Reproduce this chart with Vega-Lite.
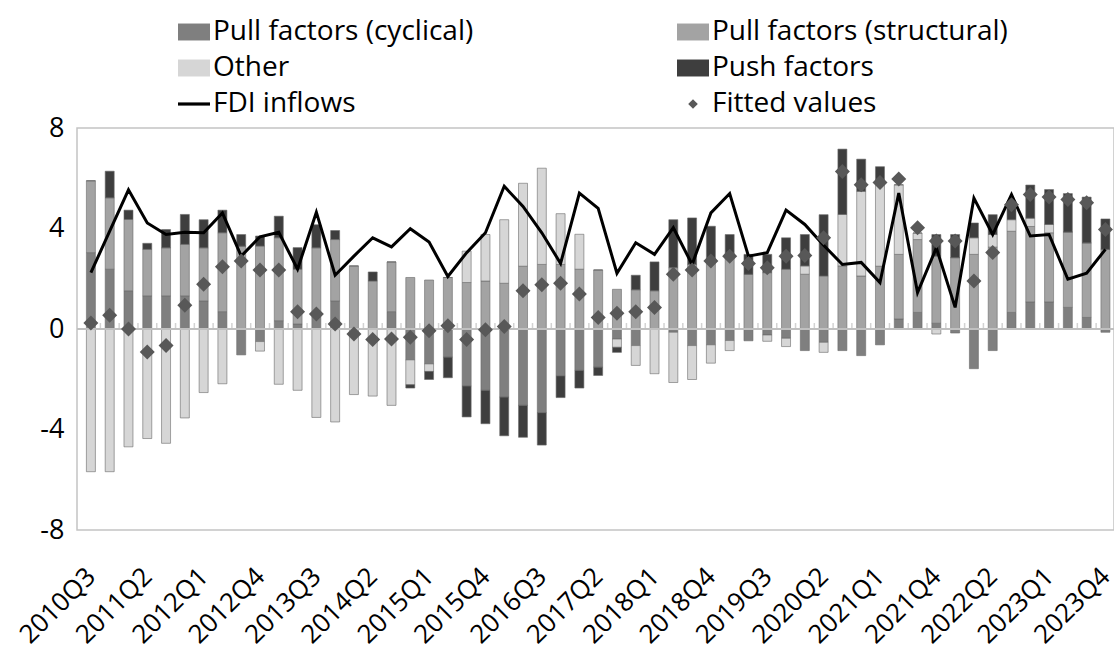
{
  "$schema": "https://vega.github.io/schema/vega-lite/v6.json",
  "width": 1037,
  "height": 402,
  "autosize": {"type": "none"},
  "padding": {"left": 77, "top": 128, "right": 0, "bottom": 115},
  "background": "white",
  "config": {
    "font": "Open Sans",
    "view": {"stroke": "#c4c4c4", "strokeWidth": 1.5},
    "axis": {"labelFont": "Open Sans", "labelColor": "#000000", "labelFontSize": 27}
  },
  "data": {"values": [
    {"i":0,"q":"2010Q3","cyclical":3.04,"structural":2.86,"unexplained":-5.68,"world":0,"fdi":2.24,"fitted":0.24},
    {"i":1,"q":"2010Q4","cyclical":2.38,"structural":2.84,"unexplained":-5.68,"world":1.06,"fdi":3.9,"fitted":0.55},
    {"i":2,"q":"2011Q1","cyclical":1.52,"structural":2.84,"unexplained":-4.69,"world":0.37,"fdi":5.54,"fitted":0.0},
    {"i":3,"q":"2011Q2","cyclical":1.32,"structural":1.85,"unexplained":-4.36,"world":0.24,"fdi":4.22,"fitted":-0.92},
    {"i":4,"q":"2011Q3","cyclical":1.32,"structural":1.91,"unexplained":-4.55,"world":0.73,"fdi":3.76,"fitted":-0.66},
    {"i":5,"q":"2011Q4","cyclical":1.32,"structural":2.05,"unexplained":-3.54,"world":1.19,"fdi":3.85,"fitted":0.95},
    {"i":6,"q":"2012Q1","cyclical":1.12,"structural":2.11,"unexplained":-2.53,"world":1.12,"fdi":3.83,"fitted":1.78},
    {"i":7,"q":"2012Q2","cyclical":0.69,"structural":3.14,"unexplained":-2.18,"world":0.9,"fdi":4.62,"fitted":2.48},
    {"i":8,"q":"2012Q3","cyclical":-1.03,"structural":3.3,"unexplained":0,"world":0.46,"fdi":2.9,"fitted":2.71},
    {"i":9,"q":"2012Q4","cyclical":-0.5,"structural":3.3,"unexplained":-0.38,"world":0.4,"fdi":3.67,"fitted":2.35},
    {"i":10,"q":"2013Q1","cyclical":0.33,"structural":3.3,"unexplained":-2.2,"world":0.86,"fdi":3.85,"fitted":2.35},
    {"i":11,"q":"2013Q2","cyclical":0.2,"structural":2.18,"unexplained":-2.44,"world":0.86,"fdi":2.38,"fitted":0.69},
    {"i":12,"q":"2013Q3","cyclical":0.46,"structural":2.77,"unexplained":-3.52,"world":0.92,"fdi":4.65,"fitted":0.6},
    {"i":13,"q":"2013Q4","cyclical":1.12,"structural":2.44,"unexplained":-3.7,"world":0.36,"fdi":2.14,"fitted":0.2},
    {"i":14,"q":"2014Q1","cyclical":0,"structural":2.51,"unexplained":-2.61,"world":0,"fdi":2.9,"fitted":-0.2},
    {"i":15,"q":"2014Q2","cyclical":0,"structural":1.91,"unexplained":-2.67,"world":0.36,"fdi":3.63,"fitted":-0.42},
    {"i":16,"q":"2014Q3","cyclical":0.69,"structural":1.98,"unexplained":-3.04,"world":0,"fdi":3.27,"fitted":-0.4},
    {"i":17,"q":"2014Q4","cyclical":-1.23,"structural":2.05,"unexplained":-0.99,"world":-0.13,"fdi":3.99,"fitted":-0.33},
    {"i":18,"q":"2015Q1","cyclical":-1.39,"structural":1.95,"unexplained":-0.3,"world":-0.32,"fdi":3.46,"fitted":-0.07},
    {"i":19,"q":"2015Q2","cyclical":-1.12,"structural":2.05,"unexplained":0,"world":-0.82,"fdi":2.09,"fitted":0.13},
    {"i":20,"q":"2015Q3","cyclical":-2.27,"structural":1.85,"unexplained":1.25,"world":-1.23,"fdi":3.04,"fitted":-0.42},
    {"i":21,"q":"2015Q4","cyclical":-2.44,"structural":1.91,"unexplained":1.85,"world":-1.33,"fdi":3.83,"fitted":-0.03},
    {"i":22,"q":"2016Q1","cyclical":-2.71,"structural":1.82,"unexplained":2.53,"world":-1.54,"fdi":5.68,"fitted":0.1},
    {"i":23,"q":"2016Q2","cyclical":-3.04,"structural":2.5,"unexplained":3.3,"world":-1.27,"fdi":4.88,"fitted":1.52},
    {"i":24,"q":"2016Q3","cyclical":-3.33,"structural":2.57,"unexplained":3.83,"world":-1.29,"fdi":3.83,"fitted":1.76},
    {"i":25,"q":"2016Q4","cyclical":-1.87,"structural":2.57,"unexplained":2.02,"world":-0.86,"fdi":2.61,"fitted":1.82},
    {"i":26,"q":"2017Q1","cyclical":-1.65,"structural":2.38,"unexplained":1.39,"world":-0.7,"fdi":5.41,"fitted":1.39},
    {"i":27,"q":"2017Q2","cyclical":-1.52,"structural":2.35,"unexplained":0,"world":-0.33,"fdi":4.8,"fitted":0.46},
    {"i":28,"q":"2017Q3","cyclical":-0.4,"structural":1.58,"unexplained":-0.33,"world":-0.2,"fdi":2.22,"fitted":0.63},
    {"i":29,"q":"2017Q4","cyclical":-0.66,"structural":1.56,"unexplained":-0.79,"world":0.58,"fdi":3.43,"fitted":0.69},
    {"i":30,"q":"2018Q1","cyclical":0,"structural":1.52,"unexplained":-1.78,"world":1.15,"fdi":2.97,"fitted":0.86},
    {"i":31,"q":"2018Q2","cyclical":-0.13,"structural":2.44,"unexplained":-2.0,"world":1.91,"fdi":4.03,"fitted":2.18},
    {"i":32,"q":"2018Q3","cyclical":-0.66,"structural":2.57,"unexplained":-1.35,"world":1.85,"fdi":2.57,"fitted":2.35},
    {"i":33,"q":"2018Q4","cyclical":-0.63,"structural":2.77,"unexplained":-0.73,"world":1.32,"fdi":4.62,"fitted":2.71},
    {"i":34,"q":"2019Q1","cyclical":-0.46,"structural":2.97,"unexplained":-0.4,"world":0.79,"fdi":5.39,"fitted":2.9},
    {"i":35,"q":"2019Q2","cyclical":-0.47,"structural":2.18,"unexplained":0,"world":0.79,"fdi":2.9,"fitted":2.61},
    {"i":36,"q":"2019Q3","cyclical":-0.24,"structural":2.24,"unexplained":-0.25,"world":0.73,"fdi":3.04,"fitted":2.44},
    {"i":37,"q":"2019Q4","cyclical":-0.37,"structural":2.38,"unexplained":-0.33,"world":1.25,"fdi":4.73,"fitted":2.9},
    {"i":38,"q":"2020Q1","cyclical":-0.86,"structural":2.18,"unexplained":0.33,"world":1.25,"fdi":4.16,"fitted":2.93},
    {"i":39,"q":"2020Q2","cyclical":-0.53,"structural":2.11,"unexplained":-0.4,"world":2.44,"fdi":3.33,"fitted":3.63},
    {"i":40,"q":"2020Q3","cyclical":-0.86,"structural":2.51,"unexplained":2.05,"world":2.6,"fdi":2.57,"fitted":6.27},
    {"i":41,"q":"2020Q4","cyclical":-1.06,"structural":2.11,"unexplained":3.37,"world":1.28,"fdi":2.65,"fitted":5.74},
    {"i":42,"q":"2021Q1","cyclical":-0.63,"structural":2.5,"unexplained":3.3,"world":0.66,"fdi":1.85,"fitted":5.83},
    {"i":43,"q":"2021Q2","cyclical":0.4,"structural":2.57,"unexplained":2.77,"world":0,"fdi":5.41,"fitted":5.97},
    {"i":44,"q":"2021Q3","cyclical":0.66,"structural":2.9,"unexplained":0.26,"world":0,"fdi":1.45,"fitted":4.03},
    {"i":45,"q":"2021Q4","cyclical":0.23,"structural":2.67,"unexplained":-0.2,"world":0.86,"fdi":3.23,"fitted":3.5},
    {"i":46,"q":"2022Q1","cyclical":-0.16,"structural":2.84,"unexplained":0,"world":0.92,"fdi":0.86,"fitted":3.5},
    {"i":47,"q":"2022Q1b","cyclical":-1.58,"structural":2.97,"unexplained":0.66,"world":0.59,"fdi":5.21,"fitted":1.91},
    {"i":48,"q":"2022Q2","cyclical":-0.86,"structural":3.26,"unexplained":0.5,"world":0.79,"fdi":3.76,"fitted":3.04},
    {"i":49,"q":"2022Q3","cyclical":0.66,"structural":3.23,"unexplained":0.46,"world":0.73,"fdi":5.35,"fitted":4.95},
    {"i":50,"q":"2022Q4","cyclical":1.08,"structural":3.0,"unexplained":0.33,"world":1.32,"fdi":3.7,"fitted":5.35},
    {"i":51,"q":"2023Q1","cyclical":1.08,"structural":2.75,"unexplained":0.33,"world":1.39,"fdi":3.76,"fitted":5.25},
    {"i":52,"q":"2023Q2","cyclical":0.86,"structural":3.0,"unexplained":0,"world":1.53,"fdi":1.98,"fitted":5.15},
    {"i":53,"q":"2023Q3","cyclical":0.46,"structural":2.97,"unexplained":0,"world":1.82,"fdi":2.22,"fitted":5.02},
    {"i":54,"q":"2023Q4","cyclical":-0.13,"structural":3.17,"unexplained":0,"world":1.21,"fdi":3.17,"fitted":3.96}
  ]},
  "layer": [
    {
      "transform": [{"fold": ["cyclical", "structural", "unexplained", "world"], "as": ["key", "value"]}],
      "mark": {"type": "bar", "size": 9, "stroke": "#6a6a6a", "strokeWidth": 0.6},
      "encoding": {
        "x": {"field": "i", "type": "quantitative", "title": null,
              "scale": {"domain": [-0.474, 54.19], "nice": false, "zero": false},
              "axis": {"values": [0,3,6,9,12,15,18,21,24,27,30,33,36,39,42,45,48,51,54],
                       "labelExpr": "['2010Q3','2011Q2','2012Q1','2012Q4','2013Q3','2014Q2','2015Q1','2015Q4','2016Q3','2017Q2','2018Q1','2018Q4','2019Q3','2020Q2','2021Q1','2021Q4','2022Q2','2023Q1','2023Q4'][round(datum.value/3)]",
                       "labelAngle": -45, "labelAlign": "right", "labelBaseline": "middle", "labelPadding": 42,
                       "ticks": false, "domain": false, "grid": false, "labelOverlap": false, "labelFlush": false, "labelBound": false, "labelFontSize": 26}},
        "y": {"field": "value", "type": "quantitative", "title": null, "stack": "zero",
              "scale": {"domain": [-8, 8], "nice": false},
              "axis": {"values": [-8, -4, 0, 4, 8], "ticks": false, "domain": false, "grid": false, "labelPadding": 13, "labelFlush": false, "labelFontSize": 27,
                       "labelExpr": "datum.value < 0 ? '-' + abs(datum.value) : '' + datum.value"}},
        "order": {"field": "key", "sort": "ascending"},
        "color": {"field": "key", "type": "nominal",
                  "scale": {"domain": ["cyclical", "unexplained", "fdi", "structural", "world", "fitted"],
                            "range": ["#7f7f7f", "#d6d6d6", "#000000", "#a3a3a3", "#3e3e3e", "#585858"]},
                  "legend": {"orient": "none", "legendX": 101, "legendY": -112, "columns": 2, "columnPadding": 203, "rowPadding": 6,
                             "labelFontSize": 28, "labelFont": "Open Sans", "labelColor": "#000000", "symbolSize": 1024,
                             "symbolStrokeWidth": 0, "labelOffset": 3, "title": null, "padding": 0, "labelLimit": 0,
                             "labelExpr": "{'cyclical':'Pull factors (cyclical)','structural':'Pull factors (structural)','unexplained':'Other','world':'Push factors','fdi':'FDI inflows','fitted':'Fitted values'}[datum.value]"}}
      }
    },
    {
      "mark": {"type": "rule", "color": "#c0c0c0", "strokeWidth": 2},
      "encoding": {"y": {"datum": 0}}
    },
    {
      "mark": {"type": "tick", "orient": "vertical", "color": "#c0c0c0", "size": 6, "thickness": 1.5, "xOffset": 9.49, "yOffset": -3},
      "encoding": {
        "x": {"field": "i", "type": "quantitative", "title": null},
        "y": {"datum": 0}
      }
    },
    {
      "transform": [{"fold": ["fdi"], "as": ["key", "v"]}],
      "mark": {"type": "line", "strokeWidth": 3},
      "encoding": {
        "x": {"field": "i", "type": "quantitative", "title": null},
        "y": {"field": "v", "type": "quantitative", "title": null},
        "color": {"field": "key", "type": "nominal"}
      }
    },
    {
      "transform": [{"fold": ["fitted"], "as": ["key", "v"]}],
      "mark": {"type": "point", "filled": true, "size": 2500, "opacity": 1},
      "encoding": {
        "x": {"field": "i", "type": "quantitative", "title": null},
        "y": {"field": "v", "type": "quantitative", "title": null},
        "color": {"field": "key", "type": "nominal"},
        "shape": {"field": "key", "type": "nominal",
                  "scale": {"domain": ["cyclical", "unexplained", "fdi", "structural", "world", "fitted"],
                            "range": ["M-1,-0.53H1V0.53H-1Z", "M-1,-0.53H1V0.53H-1Z", "M-1,-0.1H1V0.1H-1Z", "M-1,-0.53H1V0.53H-1Z", "M-1,-0.53H1V0.53H-1Z", "M0,-0.3L0.3,0L0,0.3L-0.3,0Z"]},
                  "legend": {"orient": "none", "legendX": 101, "legendY": -112, "columns": 2, "columnPadding": 203, "rowPadding": 6,
                             "labelFontSize": 28, "labelFont": "Open Sans", "labelColor": "#000000", "symbolSize": 1024,
                             "symbolStrokeWidth": 0, "labelOffset": 3, "title": null, "padding": 0, "labelLimit": 0,
                             "labelExpr": "{'cyclical':'Pull factors (cyclical)','structural':'Pull factors (structural)','unexplained':'Other','world':'Push factors','fdi':'FDI inflows','fitted':'Fitted values'}[datum.value]"}}
      }
    }
  ]
}
